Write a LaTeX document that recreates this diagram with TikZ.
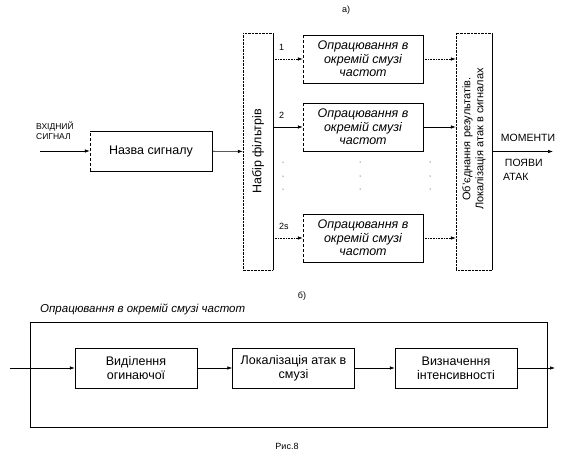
\documentclass[tikz,border=0pt]{standalone}
\usepackage{fontspec}
\setmainfont{Liberation Sans}
\usetikzlibrary{arrows.meta,positioning}
\tikzset{
  blk/.style  = {minimum width=122pt, minimum height=40pt, align=center,
                 inner sep=2pt, font=\fontsize{12.5}{14}\selectfont},
  prc/.style  = {blk, minimum width=120pt, minimum height=48pt,
                 font=\fontsize{12.5}{13.5}\selectfont\itshape},
  tall/.style = {minimum height=237pt, inner sep=0pt},
  vtxt/.style = {rotate=90, align=center, inner sep=0pt},
  ar/.style   = {-{Latex[length=5pt,width=3.5pt]}, semithick},
  ard/.style  = {ar, densely dotted},
  lbl/.style  = {font=\fontsize{9}{11}\selectfont, inner sep=0pt},
  outlbl/.style = {font=\fontsize{10.5}{14}\selectfont, inner sep=0pt},
}
\begin{document}
\begin{tikzpicture}[x=1pt,y=-1pt]
  \useasboundingbox (0,0) rectangle (571,458);
  % а) bank of filters
  \node[lbl] (capa) at (346,10) {а)};
  \coordinate (in) at (40,151);
  \node[font=\fontsize{8.5}{10}\selectfont, align=left, anchor=west, inner sep=0pt] (inlbl) at (36,131) {ВХІДНИЙ\\СИГНАЛ};
  \node[blk] (nm) at (151,151) {Назва сигналу};
  \draw (nm.north west) -- (nm.north east) -- (nm.south east) -- (nm.south west);
  \draw[densely dashed] (nm.south west) -- (nm.north west);

  \node[tall, minimum width=30pt] (bank) at (258,151.5) {};
  \draw[densely dotted] (bank.north east) -- (bank.north west) -- (bank.south west) -- (bank.south east);
  \draw (bank.north east) -- (bank.south east);
  \node[vtxt, font=\fontsize{12.5}{14}\selectfont] (banktxt) at (bank.center) {Набір фільтрів};

  \node[tall, minimum width=36pt] (comb) at (474,151.5) {};
  \draw[densely dotted] (comb.north east) -- (comb.north west) -- (comb.south west) -- (comb.south east);
  \draw (comb.north east) -- (comb.south east);
  \node[vtxt, font=\fontsize{11}{13}\selectfont] (combtxt) at (474,139) {Об'єднання результатів.\\Локалізація атак в сигналах};

  \draw[ar] (in) -- (nm);
  \draw[ar] (nm) -- (bank);

  % processing in separate bands
  \foreach \n/\y/\k/\st in {1/59/1/ard, 2/127/2/ar, 3/238/2s/ard}{
    \node[prc] (p\n) at (363,\y) {Опрацювання в\\окремій смузі\\частот};
    \draw (p\n.north west) -- (p\n.north east) -- (p\n.south east) -- (p\n.south west);
    \draw[densely dashed] (p\n.south west) -- (p\n.north west);
    \draw[\st] (bank.east |- p\n) -- (p\n);
    \draw[\st] (p\n) -- (comb.west |- p\n);
    \node[lbl, anchor=west] (k\n) at (279,\y-12) {\k};
  }
  \foreach \x in {283,360,430}
    \foreach \y in {162,176,189}
      \fill (\x,\y) circle (0.5pt);

  \coordinate (out) at (553,151.5);
  \draw[ar] (comb) -- (out);
  \node[outlbl] (mom) at (528,138) {МОМЕНТИ};
  \node[outlbl, align=left, anchor=west] (poy) at (503,170) {\,ПОЯВИ\\АТАК};

  % б) one band
  \node[lbl] (capb) at (302,296) {б)};
  \node[font=\fontsize{11.5}{13}\selectfont\itshape, anchor=west, inner sep=0pt] (ttl) at (40,309) {Опрацювання в окремій смузі частот};
  \node[draw, minimum width=517pt, minimum height=105pt, inner sep=0pt] (frm) at (288.5,374.5) {};
  \node[blk, draw] (b1) at (136,368) {Виділення\\огинаючої};
  \node[blk, draw] (b2) at (293.5,368) {Локалізація атак в\\смузі};
  \node[blk, draw] (b3) at (456,368) {Визначення\\інтенсивності};
  \coordinate (bin) at (10,368);
  \coordinate (bout) at (555,368);
  \draw[ar] (bin) -- (b1);
  \draw[ar] (b1) -- (b2);
  \draw[ar] (b2) -- (b3);
  \draw[ar] (b3) -- (bout);

  \node[lbl] (fig) at (287,446) {Рис.8};
\end{tikzpicture}
\end{document}
